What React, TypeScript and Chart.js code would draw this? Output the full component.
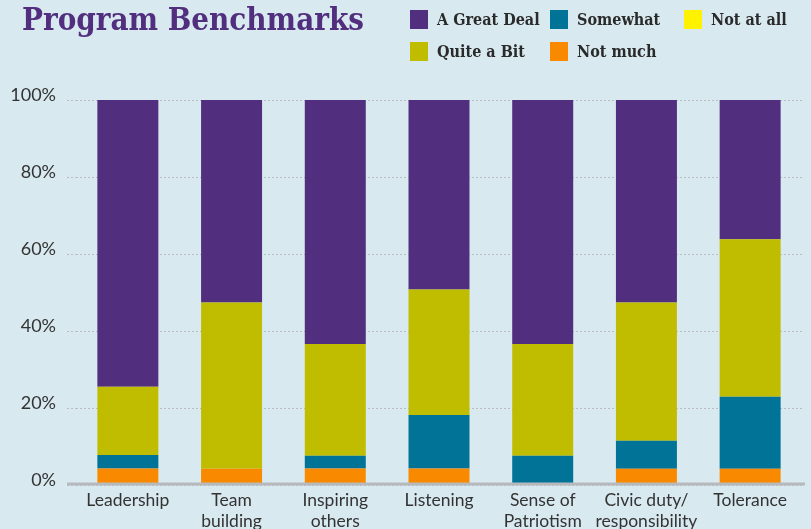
import React, { useEffect, useRef } from "react";
import { Chart, registerables } from "chart.js";

Chart.register(...registerables);

const categories: string[][] = [
  ["Leadership"],
  ["Team", "building"],
  ["Inspiring", "others"],
  ["Listening"],
  ["Sense of", "Patriotism"],
  ["Civic duty/", "responsibility"],
  ["Tolerance"],
];

const notMuch = [4.3, 4.2, 4.3, 4.3, 0, 4.2, 4.2];
const somewhat = [3.5, 0, 3.3, 13.9, 7.6, 7.3, 18.7];
const notAtAll = [0, 0, 0, 0, 0, 0, 0];
const quiteABit = [17.7, 43.2, 29.0, 32.6, 29.0, 35.9, 40.9];
const greatDeal = [74.5, 52.6, 63.4, 49.2, 63.4, 52.6, 36.2];

const seriesNames = ["Not much", "Somewhat", "Not at all", "Quite a Bit", "A Great Deal"];
const seriesColors = ["#f98a00", "#017396", "#fff200", "#c0bc00", "#512f7e"];
const seriesValues = [notMuch, somewhat, notAtAll, quiteABit, greatDeal];

// legend reading order (row by row)
const legendOrder = ["A Great Deal", "Somewhat", "Not at all", "Quite a Bit", "Not much"];

const yTickValues = [0, 20, 40, 60, 80, 100];
const title = "Program Benchmarks";

const BG = "#d8e9f0";
const TEXT = "#333333";
const SERIF = '"DejaVu Serif", serif';

const legendCols = [410, 550, 684];
const legendRows = [10, 42];

export default function App() {
  const ref = useRef<HTMLCanvasElement | null>(null);

  useEffect(() => {
    if (!ref.current) return;
    const axisLine = {
      id: "axisLine",
      afterDatasetsDraw(chart: any) {
        const { ctx, chartArea, scales } = chart;
        const yy = scales.y.getPixelForValue(0);
        ctx.save();
        ctx.strokeStyle = "#b7babd";
        ctx.lineWidth = 3;
        ctx.beginPath();
        ctx.moveTo(chartArea.left - 9, yy - 1);
        ctx.lineTo(chartArea.right + 3, yy - 1);
        ctx.stroke();
        ctx.restore();
      },
    };
    const chart = new Chart(ref.current, {
      type: "bar",
      data: {
        labels: categories,
        datasets: seriesNames.map((n, i) => ({
          label: n,
          data: seriesValues[i],
          backgroundColor: seriesColors[i],
          borderWidth: 0,
          categoryPercentage: 1,
          barPercentage: 0.588,
        })),
      },
      options: {
        responsive: false,
        animation: false,
        layout: { padding: { top: 100, right: 9, left: 0, bottom: 0 } },
        plugins: {
          legend: { display: false },
          title: { display: false },
          tooltip: { enabled: false },
        },
        scales: {
          x: {
            stacked: true,
            grid: { display: false, drawTicks: false },
            border: { display: false },
            ticks: {
              color: TEXT,
              font: { family: "Lato", size: 17.5 },
              padding: 5,
              maxRotation: 0,
              autoSkip: false,
            },
            afterFit: (s: any) => {
              s.height = 44;
            },
          },
          y: {
            stacked: true,
            min: 0,
            max: 100,
            afterBuildTicks: (s: any) => {
              s.ticks = yTickValues.map((v) => ({ value: v }));
            },
            ticks: {
              color: TEXT,
              font: { family: "Lato", size: 18 },
              padding: 11,
              labelOffset: -5,
              callback: (v: any) => v + "%",
            },
            grid: {
              color: "#b9bcc0",
              lineWidth: 1,
              tickLength: 9,
              tickColor: "#b9bcc0",
              tickBorderDash: [2, 2],
            },
            border: { display: false, dash: [2, 2] },
            afterFit: (s: any) => {
              s.width = 76;
            },
          },
        },
      },
      plugins: [axisLine],
    });
    return () => chart.destroy();
  }, []);

  return (
    <div
      style={{
        position: "fixed",
        left: 0,
        top: 0,
        width: 811,
        height: 529,
        background: BG,
        overflow: "hidden",
      }}
    >
      <canvas ref={ref} width={811} height={529} style={{ position: "absolute", left: 0, top: 0, width: 811, height: 529 }} />
      <div
        style={{
          position: "absolute",
          left: 22,
          top: 1,
          fontFamily: SERIF,
          fontWeight: "bold",
          fontStretch: "condensed",
          fontSize: 31,
          lineHeight: "36px",
          color: "#512f7e",
          whiteSpace: "nowrap",
        }}
      >
        {title}
      </div>
      {legendOrder.map((name, k) => {
        const idx = seriesNames.indexOf(name);
        const col = k < 3 ? k : k - 3;
        const row = k < 3 ? 0 : 1;
        return (
          <div
            key={name}
            style={{
              position: "absolute",
              left: legendCols[col],
              top: legendRows[row],
              height: 19,
              display: "flex",
              alignItems: "center",
              whiteSpace: "nowrap",
            }}
          >
            <span style={{ display: "inline-block", width: 18, height: 19, background: seriesColors[idx] }} />
            <span
              style={{
                marginLeft: 9,
                fontFamily: SERIF,
                fontWeight: "bold",
                fontStretch: "condensed",
                fontSize: 16,
                color: "#2a2a2a",
              }}
            >
              {name}
            </span>
          </div>
        );
      })}
    </div>
  );
}
